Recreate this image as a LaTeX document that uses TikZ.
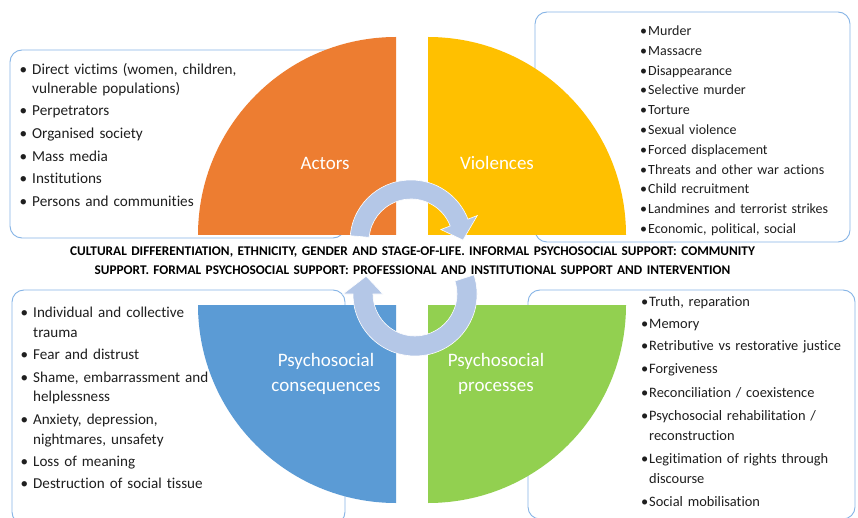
\documentclass[tikz,border=0pt]{standalone}
\usepackage{fontspec}
\setmainfont{Carlito}[Ligatures=NoCommon]
\definecolor{qorange}{HTML}{ED7D31}
\definecolor{qyellow}{HTML}{FFC000}
\definecolor{qblue}{HTML}{5B9BD5}
\definecolor{qgreen}{HTML}{92D050}
\definecolor{arrowblue}{HTML}{B4C7E7}
\definecolor{boxblue}{HTML}{86B4E6}
\newcommand{\lbul}{\leavevmode\llap{\textbullet\hspace{5pt}}}
\newcommand{\rbul}{\leavevmode\llap{\textbullet\hspace{1pt}}}
\begin{document}
\begin{tikzpicture}[x=1pt,y=-1pt,
  listbox/.style={draw=boxblue, line width=0.9pt, rounded corners=12pt, fill=white},
  cyclearrow/.style={fill=arrowblue, draw=white, line width=0.6pt},
  qlabel/.style={text=white, font=\fontsize{19}{25.5}\selectfont, align=center, inner sep=0pt},
  listtext/.style={anchor=base west, inner sep=0pt, align=left, text=black!88}]
\useasboundingbox (0,0) rectangle (858,518);
\fill[white] (0,0) rectangle (858,518);
% list boxes
\draw[listbox] (10,50) rectangle (345,238);
\draw[listbox] (535,12) rectangle (850,242);
\draw[listbox] (12,290) rectangle (345,524);
\draw[listbox] (528,290) rectangle (855,519);
% quadrants
\fill[qorange] (396,235) -- (198,235) arc[start angle=180,end angle=270,radius=198] -- cycle;
\fill[qyellow] (428,235) -- (428,37) arc[start angle=270,end angle=360,radius=198] -- cycle;
\fill[qblue] (396,305) -- (198,305) arc[start angle=180,end angle=90,radius=198] -- cycle;
\fill[qgreen] (428,305) -- (626,305) arc[start angle=0,end angle=90,radius=198] -- cycle;
% cycle arrows
\begin{scope}[shift={(411,241)}]
\filldraw[cyclearrow] (185:42) -- (185:61) arc[start angle=185,end angle=339,radius=61]
  -- (339:71) -- (359:52) -- (339:32) -- (339:42) arc[start angle=339,end angle=185,radius=42] -- cycle;
\end{scope}
\begin{scope}[shift={(415,294)}]
\filldraw[cyclearrow] (-18:42) -- (-18:62) arc[start angle=-18,end angle=180,radius=62]
  -- (180:72) -- (200:52) -- (180:32) -- (180:42) arc[start angle=180,end angle=-18,radius=42] -- cycle;
\end{scope}
% quadrant labels
\node[qlabel] (actors) at (325,163) {Actors};
\node[qlabel] (violences) at (497,163) {Violences};
\node[qlabel] (consequences) at (326,374) {Psychosocial\\consequences};
\node[qlabel] (processes) at (496,374) {Psychosocial\\processes};
% central band
\node[anchor=base, inner sep=0pt, text width=840pt, align=center,
  font=\bfseries\fontsize{13.3}{18}\selectfont] (band) at (412.5,256)
  {CULTURAL DIFFERENTIATION, ETHNICITY, GENDER AND STAGE-OF-LIFE. INFORMAL PSYCHOSOCIAL SUPPORT: COMMUNITY\\
   SUPPORT. FORMAL PSYCHOSOCIAL SUPPORT: PROFESSIONAL AND INSTITUTIONAL SUPPORT AND INTERVENTION};
% lists
\node[listtext, text width=230pt, font=\fontsize{15.2}{18.2}\selectfont] (actorslist) at (32,75)
  {\lbul Direct victims (women, children,\\ vulnerable populations)\\[4.5pt]
   \lbul Perpetrators\\[4.5pt]
   \lbul Organised society\\[4.5pt]
   \lbul Mass media\\[4.5pt]
   \lbul Institutions\\[4.5pt]
   \lbul Persons and communities};
\node[listtext, text width=200pt, font=\fontsize{14}{19.8}\selectfont] (violist) at (648,35.5)
  {\rbul Murder\\ \rbul Massacre\\ \rbul Disappearance\\ \rbul Selective murder\\ \rbul Torture\\
   \rbul Sexual violence\\ \rbul Forced displacement\\ \rbul Threats and other war actions\\
   \rbul Child recruitment\\ \rbul Landmines and terrorist strikes\\ \rbul Economic, political, social};
\node[listtext, text width=200pt, font=\fontsize{15.1}{19.8}\selectfont] (conslist) at (33,317.5)
  {\lbul Individual and collective\\ trauma\\[2.6pt]
   \lbul Fear and distrust\\[2.6pt]
   \lbul Shame, embarrassment and\\ helplessness\\[2.6pt]
   \lbul Anxiety, depression,\\ nightmares, unsafety\\[2.6pt]
   \lbul Loss of meaning\\[2.6pt]
   \lbul Destruction of social tissue};
\node[listtext, text width=200pt, font=\fontsize{14.4}{20}\selectfont] (proclist) at (649,306.5)
  {\rbul Truth, reparation\\[1.5pt]
   \rbul Memory\\[2.5pt]
   \rbul Retributive vs restorative justice\\[3pt]
   \rbul Forgiveness\\[3.5pt]
   \rbul Reconciliation / coexistence\\[3pt]
   \rbul Psychosocial rehabilitation /\\ reconstruction\\[3pt]
   \rbul Legitimation of rights through\\ discourse\\[3.5pt]
   \rbul Social mobilisation};
\end{tikzpicture}
\end{document}
